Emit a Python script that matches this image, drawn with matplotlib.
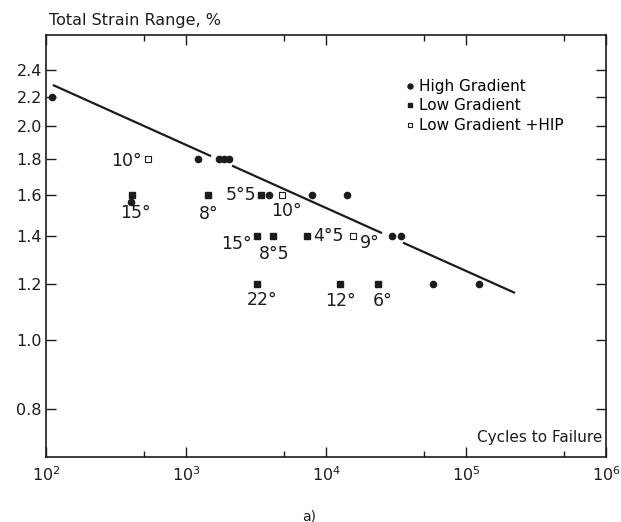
import matplotlib
matplotlib.use("Agg")
import matplotlib.pyplot as plt
from matplotlib.ticker import FixedLocator, FixedFormatter, LogFormatterSciNotation

# data (cycles to failure, total strain range %)
high_cycles = [110, 405, 1218, 1722, 1868, 2028, 3917, 7943, 14125, 29600, 34360, 58100, 123900]
high_strain = [2.2, 1.565, 1.8, 1.8, 1.8, 1.8, 1.6, 1.6, 1.6, 1.4, 1.4, 1.2, 1.2]

low_cycles = [411, 1436, 3434, 3216, 4180, 7311, 3216, 12600, 23520]
low_strain = [1.6, 1.6, 1.6, 1.4, 1.4, 1.4, 1.2, 1.2, 1.2]
low_labels = ["15°", "8°", "5°5", "15°", "8°5", "4°5", "22°", "12°", "6°"]

hip_cycles = [535, 4850, 15600]
hip_strain = [1.8, 1.6, 1.4]
hip_labels = ["10°", "10°", "9°"]

# fitted line, drawn in pieces with gaps round the points
fit_cycles = [[112, 1509], [2131, 25120], [35480, 224000]]
fit_strain = [[2.284, 1.814], [1.759, 1.414], [1.371, 1.165]]

ytick_vals = [0.8, 1.0, 1.2, 1.4, 1.6, 1.8, 2.0, 2.2, 2.4]

# label offsets in pixels (dx, dy, ha)
low_offsets = [(3, -18, "center"), (1, -19, "center"), (-5, 0, "right"),
               (-5, -8, "right"), (1, -18, "center"), (6, 0, "left"),
               (5, -16, "center"), (0, -17, "center"), (5, -17, "center")]
hip_offsets = [(-6, -2, "right"), (4, -16, "center"), (7, -7, "left")]

ink = "#1c1c1c"
plt.rcParams["font.family"] = "DejaVu Sans"

fig = plt.figure(figsize=(6.21, 5.22), dpi=100)
ax = fig.add_axes([46 / 621, 65 / 522, 560 / 621, 422 / 522])
ax.set_xscale("log")
ax.set_yscale("log")
ax.set_xlim(1e2, 1e6)
ax.set_ylim(0.685, 2.685)

for xs, ys in zip(fit_cycles, fit_strain):
    ax.plot(xs, ys, color=ink, lw=1.6, solid_capstyle="butt")

ax.plot(high_cycles, high_strain, "o", ms=4.5, color=ink, ls="none", label="High Gradient")
ax.plot(low_cycles, low_strain, "s", ms=3.8, color=ink, ls="none", label="Low Gradient")
ax.plot(hip_cycles, hip_strain, "s", ms=4.2, mfc="white", mec=ink, mew=0.8, ls="none",
        label="Low Gradient +HIP")

for x, y, t, (dx, dy, ha) in zip(low_cycles, low_strain, low_labels, low_offsets):
    ax.annotate(t, (x, y), xytext=(dx, dy), textcoords="offset pixels",
                ha=ha, va="center", fontsize=12.5, color=ink)
for x, y, t, (dx, dy, ha) in zip(hip_cycles, hip_strain, hip_labels, hip_offsets):
    ax.annotate(t, (x, y), xytext=(dx, dy), textcoords="offset pixels",
                ha=ha, va="center", fontsize=12.5, color=ink)

ax.legend(loc="upper left", bbox_to_anchor=(0.641, 0.896), frameon=False,
          fontsize=11, handlelength=0.6, handletextpad=0.3, labelspacing=0.3,
          borderpad=0, borderaxespad=0, markerscale=0.8)

# ticks
ax.xaxis.set_major_locator(FixedLocator([1e2, 1e3, 1e4, 1e5, 1e6]))
ax.xaxis.set_major_formatter(LogFormatterSciNotation())
ax.xaxis.set_minor_locator(FixedLocator([5e2, 5e3, 5e4, 5e5]))
ax.xaxis.set_minor_formatter(FixedFormatter([""] * 4))
ax.yaxis.set_major_locator(FixedLocator(ytick_vals))
ax.yaxis.set_major_formatter(FixedFormatter(["%.1f" % v for v in ytick_vals]))
ax.yaxis.set_minor_locator(FixedLocator([]))
ax.tick_params(which="both", direction="in", top=True, right=True, color=ink,
               labelcolor=ink, labelsize=11.5, width=1.0)
ax.tick_params(which="major", length=7)
ax.tick_params(which="minor", length=4)
ax.tick_params(axis="x", pad=6)
ax.tick_params(axis="y", pad=3)
for s in ax.spines.values():
    s.set_linewidth(1.2)
    s.set_color(ink)

ax.text(0.993, 0.047, "Cycles to Failure", transform=ax.transAxes, ha="right",
        va="center", fontsize=11, color=ink)
fig.text(49 / 621, 1 - 21 / 522, "Total Strain Range, %", ha="left", va="center",
         fontsize=11.5, color=ink)
fig.text(309 / 621, 1 - 516 / 522, "a)", ha="center", va="center", fontsize=10, color=ink)

fig.savefig("out.png", dpi=100)
